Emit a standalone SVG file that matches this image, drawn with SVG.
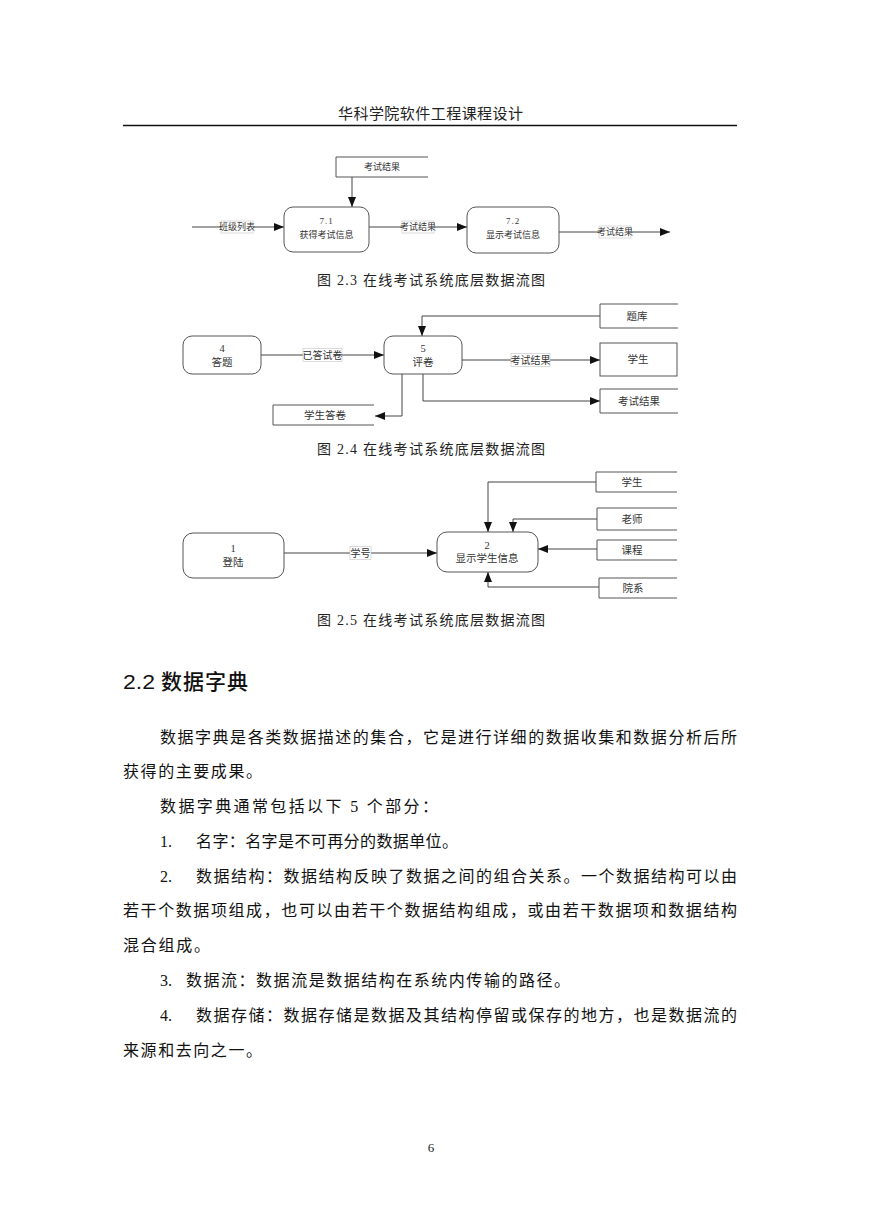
<svg xmlns="http://www.w3.org/2000/svg" width="869" height="1228" viewBox="0 0 869 1228">
<defs>
<marker id="arr" markerUnits="userSpaceOnUse" markerWidth="10" markerHeight="8" refX="10" refY="4" orient="auto">
<path d="M0,0 L10,4 L0,8 z" fill="#111"/>
</marker>
<style>
.t{font-family:"Liberation Serif","Noto Sans CJK SC",serif;fill:#333;text-anchor:middle}
.s9{font-size:9px}
.s10{font-size:10px}
.s11{font-size:10.5px}
.proc{fill:#fff;stroke:#555;stroke-width:1}
.store{fill:none;stroke:#555;stroke-width:1}
.flow{fill:none;stroke:#444;stroke-width:1;marker-end:url(#arr)}
.lbl{fill:#fff;stroke:#c4c4c4;stroke-width:0.6}
.cap{font-family:"Liberation Serif","Noto Sans CJK SC",serif;font-size:14px;fill:#222}
.body{font-family:"Liberation Serif","Noto Sans CJK SC",serif;font-size:16px;fill:#111}
</style>
</defs>
<rect width="869" height="1228" fill="#fff"/>

<!-- header -->
<g id="header">
<text x="430.5" y="118.5" class="t" style="font-size:15px;fill:#222" textLength="185" lengthAdjust="spacing">华科学院软件工程课程设计</text>
<line x1="123" y1="125.5" x2="737" y2="125.5" stroke="#111" stroke-width="1.5"/>
</g>

<!-- ===== Figure 2.3 ===== -->
<g id="connectors-23">
<path class="flow" d="M352,177 V207"/>
<path class="flow" d="M192,227 H284"/>
<path class="flow" d="M369,227 H467"/>
<path class="flow" d="M559,232 H670"/>
<rect class="lbl" x="221" y="221" width="32" height="12"/>
<text x="237" y="230.3" class="t s9">班级列表</text>
<rect class="lbl" x="402" y="221" width="32" height="12"/>
<text x="418" y="230.3" class="t s9">考试结果</text>
<rect class="lbl" x="599" y="226" width="32" height="12"/>
<text x="615" y="235.3" class="t s9">考试结果</text>
</g>
<g id="store-23-result">
<path class="store" d="M428,157 H336 V177 H428"/>
<text x="382" y="170.3" class="t s9">考试结果</text>
</g>
<g id="proc-7-1">
<rect class="proc" x="284" y="207" width="85" height="45" rx="9"/>
<text x="326.5" y="224.3" class="t s9" letter-spacing="1">7.1</text>
<text x="326.5" y="238.3" class="t s9">获得考试信息</text>
</g>
<g id="proc-7-2">
<rect class="proc" x="467" y="207" width="92" height="46" rx="9"/>
<text x="513" y="224.3" class="t s9" letter-spacing="1">7.2</text>
<text x="513" y="238.3" class="t s9">显示考试信息</text>
</g>
<text x="317" y="285" class="cap" textLength="228" lengthAdjust="spacing">图 2.3  在线考试系统底层数据流图</text>

<!-- ===== Figure 2.4 ===== -->
<g id="connectors-24">
<path class="flow" d="M261,355 H384"/>
<path class="flow" d="M600,316 H422 V336"/>
<path class="flow" d="M462,360 H600"/>
<path class="flow" d="M423,374 V401 H600"/>
<path class="flow" d="M402,374 V416 H375"/>
<rect class="lbl" x="303" y="348.5" width="39" height="13"/>
<text x="322.5" y="358.7" class="t s10">已答试卷</text>
<rect class="lbl" x="511" y="353.5" width="39" height="13"/>
<text x="530.5" y="363.7" class="t s10">考试结果</text>
</g>
<g id="proc-4">
<rect class="proc" x="183" y="336" width="78" height="38" rx="9"/>
<text x="222" y="351.9" class="t s11">4</text>
<text x="222" y="365.9" class="t s11">答题</text>
</g>
<g id="proc-5">
<rect class="proc" x="384" y="336" width="78" height="38" rx="9"/>
<text x="423" y="351.9" class="t s11">5</text>
<text x="423" y="365.9" class="t s11">评卷</text>
</g>
<g id="store-tiku">
<path class="store" d="M678,304 H600 V328 H678"/>
<text x="637" y="319.9" class="t s11">题库</text>
</g>
<g id="ext-student">
<rect class="store" x="600" y="343" width="77" height="33"/>
<text x="638" y="362.9" class="t s11">学生</text>
</g>
<g id="store-24-result">
<path class="store" d="M678,389 H600 V413 H678"/>
<text x="639" y="404.9" class="t s11">考试结果</text>
</g>
<g id="store-answers">
<path class="store" d="M374,405 H273 V425 H374"/>
<text x="325" y="418.9" class="t s11">学生答卷</text>
</g>
<text x="317" y="454" class="cap" textLength="228" lengthAdjust="spacing">图 2.4  在线考试系统底层数据流图</text>

<!-- ===== Figure 2.5 ===== -->
<g id="connectors-25">
<path class="flow" d="M284,553 H437"/>
<path class="flow" d="M596,482 H488 V532"/>
<path class="flow" d="M597,519 H513 V532"/>
<path class="flow" d="M597,549 H538"/>
<path class="flow" d="M599,587 H488 V572"/>
<rect class="lbl" x="350" y="546.5" width="21" height="13"/>
<text x="360.5" y="556.7" class="t s10">学号</text>
</g>
<g id="proc-1">
<rect class="proc" x="183" y="533" width="101" height="45" rx="10"/>
<text x="233" y="551.9" class="t s11">1</text>
<text x="233" y="565.9" class="t s11">登陆</text>
</g>
<g id="proc-2">
<rect class="proc" x="437" y="532" width="101" height="40" rx="10"/>
<text x="487" y="548.9" class="t s11">2</text>
<text x="487" y="561.9" class="t s11">显示学生信息</text>
</g>
<g id="store-student">
<path class="store" d="M677,472 H596 V492 H677"/>
<text x="632" y="485.9" class="t s11">学生</text>
</g>
<g id="store-teacher">
<path class="store" d="M677,508 H597 V530 H677"/>
<text x="632" y="522.9" class="t s11">老师</text>
</g>
<g id="store-course">
<path class="store" d="M677,540 H597 V560 H677"/>
<text x="632" y="553.9" class="t s11">课程</text>
</g>
<g id="store-dept">
<path class="store" d="M677,578 H599 V598 H677"/>
<text x="633" y="591.9" class="t s11">院系</text>
</g>
<text x="317" y="625" class="cap" textLength="228" lengthAdjust="spacing">图 2.5  在线考试系统底层数据流图</text>

<!-- ===== Section text ===== -->
<g id="section">
<text x="123" y="689" style="font-family:'Liberation Sans Narrow','Liberation Sans',sans-serif;font-size:21px;fill:#111" textLength="32" lengthAdjust="spacingAndGlyphs">2.2</text>
<text x="161" y="689" style="font-family:'Noto Sans CJK SC',sans-serif;font-size:21px;font-weight:500;fill:#111" textLength="87" lengthAdjust="spacing">数据字典</text>
<text x="160" y="743" class="body" textLength="577" lengthAdjust="spacing">数据字典是各类数据描述的集合，它是进行详细的数据收集和数据分析后所</text>
<text x="123" y="777" class="body" textLength="139" lengthAdjust="spacing">获得的主要成果。</text>
<text x="160" y="812" class="body" textLength="278" lengthAdjust="spacing">数据字典通常包括以下 5 个部分：</text>
<text x="160" y="847" class="body">1.</text>
<text x="196" y="847" class="body" textLength="262" lengthAdjust="spacing">名字：名字是不可再分的数据单位。</text>
<text x="160" y="882" class="body">2.</text>
<text x="196" y="882" class="body" textLength="541" lengthAdjust="spacing">数据结构：数据结构反映了数据之间的组合关系。一个数据结构可以由</text>
<text x="123" y="916" class="body" textLength="614" lengthAdjust="spacing">若干个数据项组成，也可以由若干个数据结构组成，或由若干数据项和数据结构</text>
<text x="123" y="951" class="body" textLength="87" lengthAdjust="spacing">混合组成。</text>
<text x="160" y="986" class="body">3.</text>
<text x="186" y="986" class="body" textLength="384" lengthAdjust="spacing">数据流：数据流是数据结构在系统内传输的路径。</text>
<text x="160" y="1021" class="body">4.</text>
<text x="196" y="1021" class="body" textLength="541" lengthAdjust="spacing">数据存储：数据存储是数据及其结构停留或保存的地方，也是数据流的</text>
<text x="123" y="1056" class="body" textLength="139" lengthAdjust="spacing">来源和去向之一。</text>
<text x="431" y="1151.5" style="font-family:'Liberation Serif',serif;font-size:13px;fill:#222;text-anchor:middle">6</text>
</g>
</svg>
